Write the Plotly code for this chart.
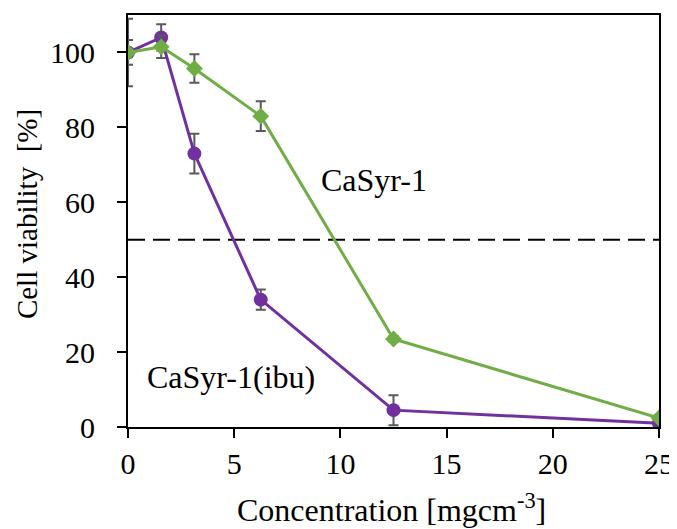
import plotly.graph_objects as go

conc = [0, 1.5625, 3.125, 6.25, 12.5, 25]
ibu_vals = [100, 104, 73, 34, 4.5, 1]
ibu_err = [9, 3.5, 5.3, 2.7, 4, 0.8]
syr_vals = [100, 101.5, 95.7, 83, 23.5, 2.4]
syr_err = [3.3, 3, 3.8, 4, 0.8, 0.8]
x_ticks = [0, 5, 10, 15, 20, 25]
y_ticks = [0, 20, 40, 60, 80, 100]
threshold = 50

font_family = "Liberation Serif, Times New Roman, serif"
purple = "#7030A0"
green = "#70AD47"
errc = "#595959"

fig = go.Figure()
fig.add_trace(go.Scatter(
    x=[0, 25], y=[threshold, threshold], mode="lines",
    line=dict(color="black", width=2, dash="17px,8px"),
    hoverinfo="skip", showlegend=False))
fig.add_trace(go.Scatter(
    x=conc, y=ibu_vals, mode="lines+markers", name="CaSyr-1(ibu)",
    line=dict(color=purple, width=3),
    marker=dict(symbol="circle", size=14, color=purple),
    error_y=dict(type="data", array=ibu_err, color=errc, thickness=2, width=5),
    showlegend=False))
fig.add_trace(go.Scatter(
    x=conc, y=syr_vals, mode="lines+markers", name="CaSyr-1",
    line=dict(color=green, width=3),
    marker=dict(symbol="diamond", size=13, color=green),
    error_y=dict(type="data", array=syr_err, color=errc, thickness=2, width=5),
    showlegend=False))

fig.add_annotation(x=11.6, y=66, text="CaSyr-1", showarrow=False,
                   font=dict(family=font_family, size=32, color="black"))
fig.add_annotation(x=4.85, y=13.3, text="CaSyr-1(ibu)", showarrow=False,
                   font=dict(family=font_family, size=32, color="black"))
# axis titles
fig.add_annotation(xref="paper", yref="paper", x=0.497, y=-0.197,
                   text="Concentration [mgcm<sup>-3</sup>]", showarrow=False,
                   xanchor="center", yanchor="middle",
                   font=dict(family=font_family, size=32, color="black"))
fig.add_annotation(xref="paper", yref="paper", x=-0.19, y=0.517,
                   text="Cell viability  [%]", showarrow=False, textangle=-90,
                   xanchor="center", yanchor="middle",
                   font=dict(family=font_family, size=29, color="black"))

fig.update_layout(
    width=677, height=529,
    margin=dict(l=120, r=26, t=7, b=110),
    plot_bgcolor="white", paper_bgcolor="white",
    font=dict(family=font_family, size=30, color="black"),
    xaxis=dict(range=[0, 25], tickvals=x_ticks, ticks="outside", ticklen=9,
               tickwidth=2, tickcolor="black", showline=True, linecolor="black",
               linewidth=2, mirror=True, showgrid=False, zeroline=False,
               automargin=False, ticklabelstandoff=0,
               tickfont=dict(size=30)),
    yaxis=dict(range=[0, 110], tickvals=y_ticks, ticks="outside", ticklen=9,
               tickwidth=2, tickcolor="black", showline=True, linecolor="black",
               linewidth=2, mirror=True, showgrid=False, zeroline=False,
               automargin=False, ticklabelstandoff=16,
               tickfont=dict(size=30)),
)
fig.write_html("out.html")
